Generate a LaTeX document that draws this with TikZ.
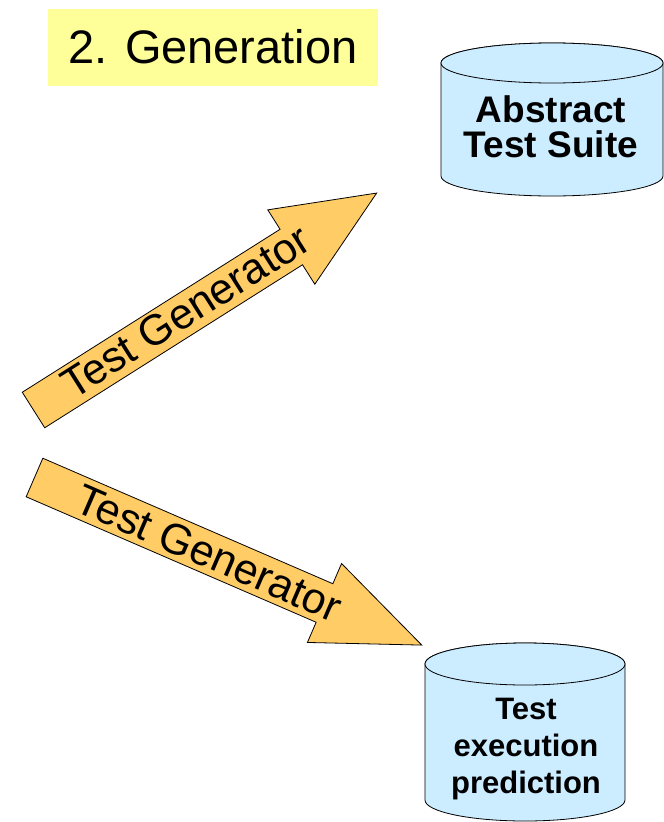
\documentclass[tikz,border=0pt]{standalone}
\usepackage{fontspec}
\setmainfont{Liberation Sans}
\definecolor{titleyellow}{HTML}{FFFF99}
\definecolor{arroworange}{HTML}{FFCC66}
\definecolor{cylblue}{HTML}{CCECFF}
\begin{document}
\begin{tikzpicture}[x=1pt,y=1pt,
  arrowshape/.style={draw=black, line width=0.8pt, fill=arroworange, line join=miter},
  arrowtext/.style={inner sep=0pt, font=\fontsize{43}{50}\selectfont},
  cylbody/.style={draw=black, line width=0.8pt, fill=cylblue},
  cyltext/.style={inner sep=0pt, align=center},
  titlebox/.style={fill=titleyellow, inner sep=0pt, minimum width=330pt, minimum height=77pt, font=\fontsize{47}{56}\selectfont}]
\useasboundingbox (0,0) rectangle (664,-822);

% title
\node[titlebox] (title) at (213,-47) {2. Generation};

% upper cylinder
\path[cylbody] (441,-63) -- (441,-176) arc[start angle=180, end angle=360, x radius=111, y radius=20] -- (663,-63) arc[start angle=0, end angle=180, x radius=111, y radius=20] -- cycle;
\draw[cylbody] (552,-63) ellipse[x radius=111, y radius=20];
\node[cyltext, font=\bfseries\fontsize{37}{35}\selectfont] (ats) at (551,-127) {Abstract\\Test Suite};

% lower cylinder
\path[cylbody] (425,-664) -- (425,-800) arc[start angle=180, end angle=360, x radius=100, y radius=21] -- (625,-664) arc[start angle=0, end angle=180, x radius=100, y radius=21] -- cycle;
\draw[cylbody] (525,-664) ellipse[x radius=100, y radius=21];
\node[cyltext, font=\bfseries\fontsize{31}{37}\selectfont] (tep) at (526,-749) {Test\\execution\\prediction};

% upper arrow
\begin{scope}[shift={(33.5,-410)}, rotate=32.3]
  \path[arrowshape] (0,-21) -- (305,-21) -- (305,-44) -- (406,0) -- (305,44) -- (305,21) -- (0,21) -- cycle;
  \node[arrowtext, rotate=32.3] (tg1) at (181,2) {Test Generator};
\end{scope}

% lower arrow
\begin{scope}[shift={(34.5,-477.5)}, rotate=-23.4]
  \path[arrowshape] (0,-21) -- (316,-21) -- (316,-43) -- (422,0) -- (316,43) -- (316,21) -- (0,21) -- cycle;
  \node[arrowtext, rotate=-23.4] (tg2) at (190,0) {Test Generator};
\end{scope}
\end{tikzpicture}
\end{document}
